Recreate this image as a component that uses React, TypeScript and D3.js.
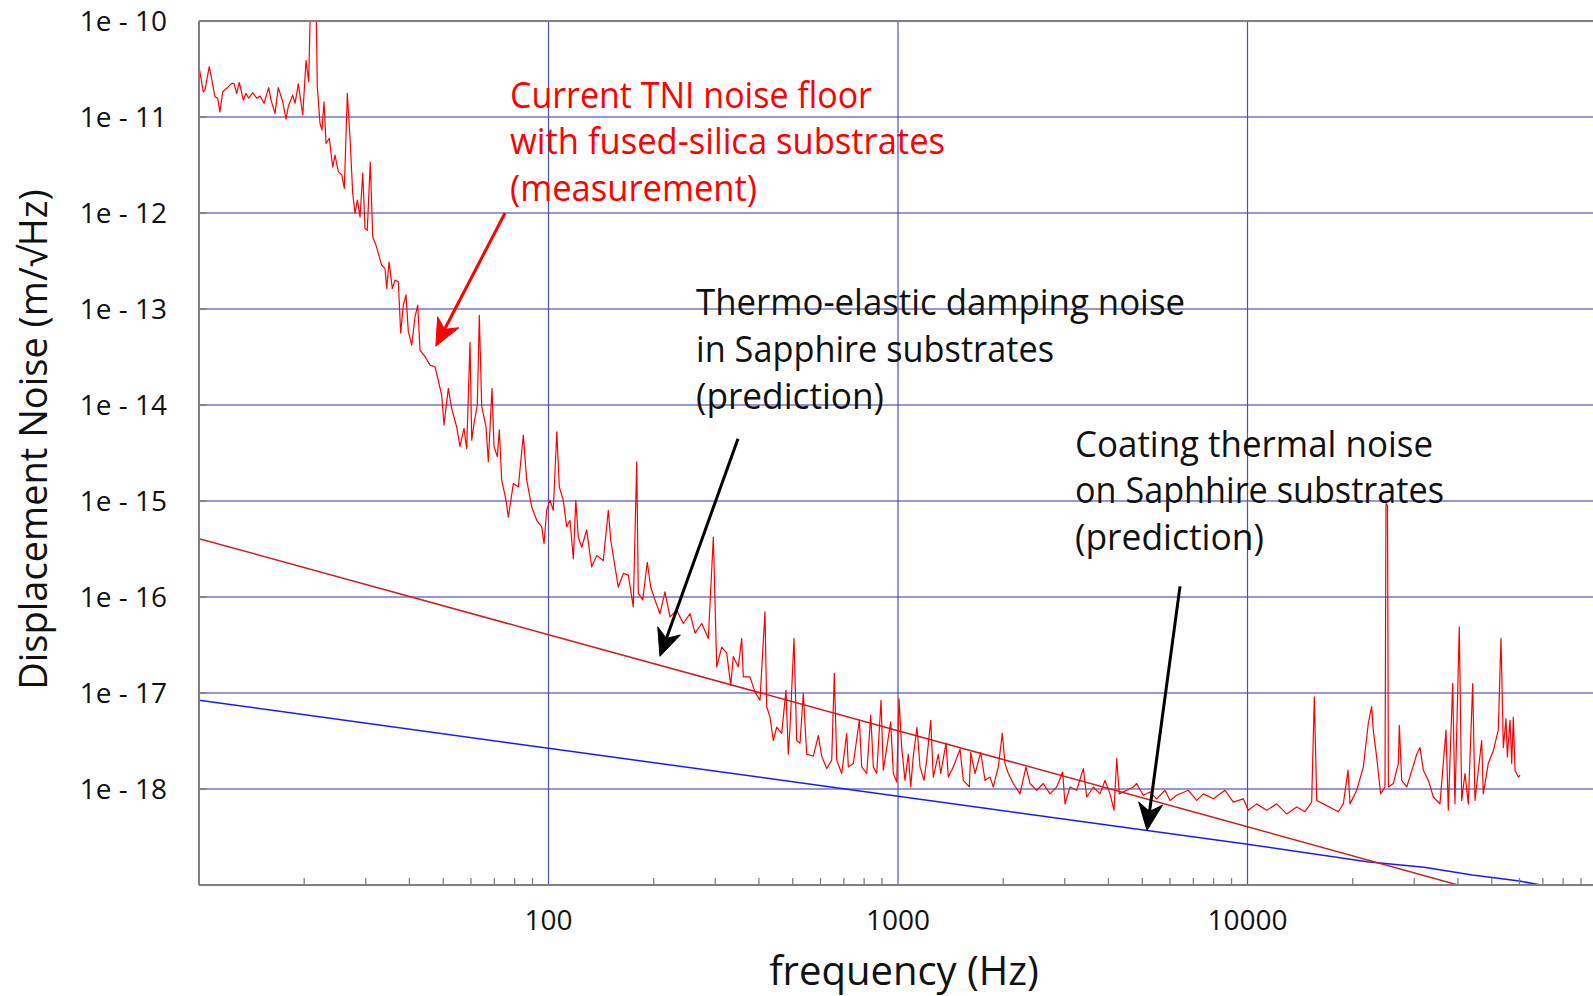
import React from "react";
import * as d3 from "d3";

// ---------- DATA ----------
const measFreq = [
  10.0, 10.29, 10.4, 10.7, 11.11, 11.31, 11.48, 11.69, 12.0, 12.4, 12.59, 12.82, 13.04, 13.39, 13.63, 13.87, 14.24, 14.63, 14.95, 15.35,
  15.83, 16.07, 16.5, 16.86, 17.36, 17.74, 18.02, 18.54, 18.83, 19.24, 19.81, 20.24, 20.6, 20.87, 21.61, 21.8, 22.19, 22.48, 22.79, 23.09,
  23.6, 24.13, 24.5, 25.04, 25.61, 26.05, 26.57, 27.04, 27.53, 27.95, 28.38, 28.89, 29.41, 29.85, 30.3, 30.91, 31.41, 32.1, 33.32, 34.05,
  34.44, 34.97, 35.74, 36.38, 37.18, 37.77, 38.42, 39.11, 39.71, 40.61, 41.5, 42.25, 42.89, 44.33, 45.81, 47.34, 48.38, 49.47, 50.23, 51.68,
  52.84, 54.62, 55.82, 57.31, 58.34, 59.62, 60.3, 61.21, 62.56, 63.39, 64.41, 66.26, 67.27, 68.92, 69.84, 71.37, 72.32, 73.47, 75.58, 76.74,
  79.32, 81.97, 84.71, 86.62, 89.53, 92.52, 95.6, 97.1, 98.8, 101.0, 103.2, 105.6, 107.4, 110.2, 112.7, 115.2, 117.8, 119.7, 121.7, 124.5,
  128.6, 132.9, 137.4, 143.5, 148.3, 150.7, 155.0, 158.4, 163.7, 169.2, 174.8, 178.8, 180.7, 186.0, 191.7, 196.1, 201.7, 208.4, 215.4, 222.6,
  232.7, 243.0, 254.1, 262.6, 274.4, 286.6, 296.2, 302.9, 313.0, 323.6, 332.1, 337.9, 349.2, 357.1, 360.9, 377.1, 389.7, 402.8, 416.3, 421.0,
  430.3, 439.7, 449.6, 464.7, 478.1, 485.4, 491.0, 504.0, 513.1, 524.4, 535.8, 548.1, 572.5, 591.6, 605.0, 625.2, 646.2, 657.3, 667.8, 690.2,
  713.3, 720.9, 745.0, 775.1, 787.4, 813.9, 835.7, 850.1, 869.2, 894.2, 907.8, 953.0, 969.6, 991.6, 1006.6, 1024.7, 1047.2, 1070.2, 1087.3, 1106.1,
  1133.4, 1156.0, 1186.9, 1208.2, 1240.6, 1261.9, 1304.2, 1325.1, 1372.1, 1393.1, 1439.7, 1504.8, 1537.7, 1599.8, 1614.7, 1661.1, 1724.7, 1774.2, 1833.6, 1874.0,
  1936.5, 1988.1, 2024.1, 2068.4, 2137.6, 2233.7, 2324.0, 2386.0, 2494.0, 2604.0, 2722.0, 2845.0, 2959.0, 3005.0, 3106.0, 3246.0, 3390.0, 3467.0, 3621.0, 3784.0,
  3911.0, 4042.0, 4150.0, 4225.0, 4297.0, 4512.0, 4713.0, 4818.0, 5032.0, 5260.0, 5498.0, 5808.0, 6003.0, 6273.0, 6771.0, 7156.0, 7474.0, 7984.0, 8623.0, 9108.0,
  9728.0, 10050, 10620, 11350, 12120, 12950, 13830, 14600, 15260, 15530, 15780, 16480, 17600, 18190, 18800, 19390, 19650, 20530, 21450, 22160,
  22660, 22900, 23420, 24040, 24740, 24900, 25150, 25300, 26130, 27010, 27190, 27620, 28550, 30150, 30490, 31160, 31850, 32920, 34020, 35540,
  36980, 37540, 38640, 39230, 40360, 41010, 41900, 42830, 44090, 44760, 46770, 47270, 48850, 50490, 52190, 52780, 53130, 53940, 54910, 55390,
  56380, 57010, 57620, 58270, 59540, 60220,
];
const measNoise = [
  3.34e-11, 1.83e-11, 1.91e-11, 3.34e-11, 1.63e-11, 1.57e-11, 1.13e-11, 1.83e-11, 1.99e-11, 2.24e-11, 2.24e-11, 1.76e-11, 2.3e-11, 1.5e-11, 1.76e-11, 1.57e-11, 1.79e-11, 1.57e-11, 1.65e-11, 1.39e-11,
  2.02e-11, 1.5e-11, 1.09e-11, 2.02e-11, 1.44e-11, 9.5e-12, 1.3e-11, 1.69e-11, 1.39e-11, 2.21e-11, 1.05e-11, 3.86e-11, 2.33e-11, 2.0e-10, 2.0e-10, 2.07e-11, 8.6e-12, 7.3e-12, 1.44e-11, 5.3e-12,
  6.0e-12, 3.0e-12, 4.0e-12, 2.7e-12, 2.5e-12, 1.8e-12, 1.76e-11, 6.2e-12, 1.6e-12, 9.9e-13, 1.36e-12, 9.1e-13, 2.6e-12, 6.9e-13, 6.6e-13, 3.4e-12, 5.65e-13, 4.6e-13, 2.87e-13, 2.65e-13,
  1.64e-13, 3.1e-13, 1.64e-13, 2.0e-13, 1.92e-13, 5.6e-14, 1.1e-13, 1.4e-13, 5.8e-14, 4.2e-14, 8.3e-14, 1.1e-13, 3.7e-14, 3.2e-14, 2.6e-14, 2.5e-14, 1.8e-14, 1.27e-14, 6.2e-15, 1.49e-14,
  9.2e-15, 5.9e-15, 3.7e-15, 5.7e-15, 3.5e-15, 4.5e-14, 4.3e-15, 6.4e-15, 1.0e-14, 8.6e-14, 9.6e-15, 5.9e-15, 2.56e-15, 1.49e-14, 3.7e-15, 2.9e-15, 5.5e-15, 1.65e-15, 1.02e-15, 6.8e-16,
  1.52e-15, 1.4e-15, 4.85e-15, 1.65e-15, 8.7e-16, 6.3e-16, 5.4e-16, 3.6e-16, 8.0e-16, 1.02e-15, 8.0e-16, 5.25e-15, 1.4e-15, 1.02e-15, 5.4e-16, 6.3e-16, 2.5e-16, 1.02e-15, 4.2e-16, 3.3e-16,
  5.0e-16, 2.06e-16, 2.7e-16, 2.4e-16, 8.0e-16, 3.9e-16, 2.06e-16, 1.27e-16, 1.76e-16, 1.69e-16, 7.9e-17, 2.56e-15, 1.09e-16, 9.3e-17, 2.3e-16, 1.27e-16, 9.3e-17, 6.7e-17, 1.13e-16, 6.2e-17,
  7.3e-17, 5.3e-17, 6.7e-17, 4.2e-17, 5.3e-17, 3.7e-17, 4.2e-16, 1.87e-17, 3.0e-17, 2.6e-17, 1.2e-17, 2.4e-17, 1.87e-17, 3.7e-17, 1.47e-17, 1.47e-17, 1.02e-17, 8.4e-18, 7.0e-17, 7.2e-18,
  5.6e-18, 3.2e-18, 4.4e-18, 3.8e-18, 1.07e-17, 2.3e-18, 4.4e-18, 3.7e-17, 3.2e-18, 3.0e-18, 9.9e-18, 2.3e-18, 2.2e-18, 3.6e-18, 2.2e-18, 1.63e-18, 2.0e-18, 1.6e-17, 2.0e-18, 1.45e-18,
  3.8e-18, 1.7e-18, 1.84e-18, 5.2e-18, 1.7e-18, 1.45e-18, 5.9e-18, 1.7e-18, 1.45e-18, 8.4e-18, 1.57e-18, 5.0e-18, 1.45e-18, 1.18e-18, 8.7e-18, 2.7e-18, 1.23e-18, 2.3e-18, 1.05e-18, 2.2e-18,
  4.4e-18, 1.7e-18, 1.23e-18, 2.0e-18, 5.2e-18, 1.33e-18, 2.3e-18, 1.45e-18, 3.0e-18, 1.33e-18, 1.7e-18, 2.6e-18, 1.23e-18, 1.05e-18, 2.4e-18, 1.45e-18, 2.4e-18, 1.23e-18, 1.33e-18, 1.05e-18,
  1.7e-18, 3.8e-18, 1.84e-18, 1.45e-18, 1.14e-18, 8.9e-19, 1.7e-18, 1.14e-18, 9.7e-19, 1.14e-18, 8.9e-19, 1.05e-18, 1.5e-18, 7.0e-19, 1.05e-18, 9.7e-19, 1.63e-18, 8.25e-19, 1.05e-18, 8.9e-19,
  1.23e-18, 8.9e-19, 6.0e-19, 2.07e-18, 8.9e-19, 9.7e-19, 1.05e-18, 1.14e-18, 8.6e-19, 9.3e-19, 7.9e-19, 9.7e-19, 7.6e-19, 8.6e-19, 9.7e-19, 7.6e-19, 8.9e-19, 7.9e-19, 9.7e-19, 7.3e-19,
  7.9e-19, 6.0e-19, 7.0e-19, 6.0e-19, 7.0e-19, 5.5e-19, 6.5e-19, 5.8e-19, 7.3e-19, 9.1e-18, 7.6e-19, 7.0e-19, 6.2e-19, 5.8e-19, 7.0e-19, 1.57e-18, 7.0e-19, 9.7e-19, 1.7e-18, 4.8e-18,
  7.2e-18, 4.1e-18, 2.15e-18, 8.9e-19, 1.05e-18, 9.4e-16, 9.0e-16, 1.05e-18, 1.14e-18, 1.84e-18, 4.6e-18, 1.23e-18, 1.05e-18, 2.0e-18, 2.3e-18, 2.7e-18, 1.57e-18, 1.23e-18, 8.25e-19, 7.0e-19,
  4.1e-18, 6.0e-19, 1.25e-17, 7.0e-19, 4.9e-17, 7.6e-19, 1.45e-18, 7.0e-19, 1.25e-17, 7.6e-19, 3.2e-18, 8.9e-19, 1.84e-18, 2.5e-18, 4.1e-18, 1.7e-17, 3.7e-17, 2.7e-18, 5.4e-18, 2.15e-18,
  5.2e-18, 1.84e-18, 5.6e-18, 1.57e-18, 1.33e-18, 1.39e-18,
];

// Thermo-elastic damping noise prediction (sapphire)
const tedFreq = [10, 100, 1000, 10000, 40000];
const tedNoise = [4.05e-16, 4.05e-17, 4.05e-18, 4.05e-19, 1.0e-19];

// Coating thermal noise prediction (sapphire)
const ctnFreq = [10, 100, 1000, 10000, 22000, 32000, 44000, 60000, 69000];
const ctnNoise = [8.4e-18, 2.66e-18, 8.4e-19, 2.66e-19, 1.75e-19, 1.53e-19, 1.27e-19, 1.1e-19, 1.0e-19];

const yTickValues = [1e-10, 1e-11, 1e-12, 1e-13, 1e-14, 1e-15, 1e-16, 1e-17, 1e-18];
const yTickLabels = ["1e - 10", "1e - 11", "1e - 12", "1e - 13", "1e - 14", "1e - 15", "1e - 16", "1e - 17", "1e - 18"];
const xTickValues = [100, 1000, 10000];
const xTickLabels = ["100", "1000", "10000"];

// annotation arrows: [start freq, start noise, tip freq, tip noise]
const arrowMeas = [75.1, 1.0e-12, 47.6, 4.1e-14];
const arrowTed = [348.5, 4.46e-15, 208.4, 2.41e-17];
const arrowCtn = [6411, 1.29e-16, 5157, 3.71e-19];

const annotMeas = ["Current TNI noise floor", "with fused-silica substrates", "(measurement)"];
const annotTed = ["Thermo-elastic damping noise", "in Sapphire substrates", "(prediction)"];
const annotCtn = ["Coating thermal noise", "on Saphhire substrates", "(prediction)"];

// ---------- LAYOUT ----------
const W = 1593;
const H = 996;
const L = 199;
const T = 21;
const B = 885;
const DEC = 349.5;
const FONT = "'Open Sans', 'Noto Sans', sans-serif";

export default function App() {
  const x = d3.scaleLog().domain([10, 1e5]).range([L, L + 4 * DEC]);
  const y = d3.scaleLog().domain([1e-19, 1e-10]).range([B, T]);

  const mk = (fs: number[], ns: number[]) =>
    d3
      .line<[number, number]>()
      .x((d) => x(d[0]))
      .y((d) => y(d[1]))(fs.map((f, i) => [f, ns[i]] as [number, number])) || "";

  const measPath = mk(measFreq, measNoise);
  const tedPath = mk(tedFreq, tedNoise);
  const ctnPath = mk(ctnFreq, ctnNoise);

  // minor ticks
  const minor: number[] = [];
  for (let dec = 10; dec < 1e5; dec *= 10) {
    for (let m = 2; m <= 9; m++) {
      const v = dec * m;
      if (x(v) < W) minor.push(v);
    }
  }

  const arrow = (a: number[], color: string) => {
    const x1 = x(a[0]);
    const y1 = y(a[1]);
    const x2 = x(a[2]);
    const y2 = y(a[3]);
    const dx = x2 - x1;
    const dy = y2 - y1;
    const len = Math.hypot(dx, dy);
    const ux = dx / len;
    const uy = dy / len;
    const px = -uy;
    const py = ux;
    const hl = 27;
    const hw = 12;
    const notch = 8;
    const bx = x2 - ux * hl;
    const by = y2 - uy * hl;
    const nx = x2 - ux * (hl - notch);
    const ny = y2 - uy * (hl - notch);
    const head = `M${x2},${y2}L${bx + px * hw},${by + py * hw}L${nx},${ny}L${bx - px * hw},${by - py * hw}Z`;
    return (
      <g>
        <line x1={x1} y1={y1} x2={nx} y2={ny} stroke={color} strokeWidth={3} />
        <path d={head} fill={color} stroke={color} strokeWidth={1} strokeLinejoin="miter" />
      </g>
    );
  };

  const annotLen = {
    meas: [362, 435, 247],
    ted: [489, 358, 188],
    ctn: [358, 369, 189],
  };

  const block = (lines: string[], lx: number, ly: number, color: string, lens: number[]) => (
    <g fill={color} fontFamily={FONT} fontSize={36}>
      {lines.map((s, i) => (
        <text key={i} x={lx} y={ly + i * 46.8} textLength={lens[i]} lengthAdjust="spacingAndGlyphs">
          {s}
        </text>
      ))}
    </g>
  );

  return (
    <div style={{ position: "absolute", left: 0, top: 0, width: W, height: H, background: "#fff" }}>
      <svg width={W} height={H} style={{ display: "block" }}>
        <defs>
          <clipPath id="plotClip">
            <rect x={L} y={T} width={W - L} height={B - T} />
          </clipPath>
        </defs>
        <rect x={0} y={0} width={W} height={H} fill="#ffffff" />

        {/* grid */}
        <g>
          {yTickValues.slice(1).map((v) => (
            <line key={v} x1={L} x2={W} y1={y(v)} y2={y(v)} stroke="#7474c4" strokeWidth={1.5} />
          ))}
          {xTickValues.map((v) => (
            <line key={v} x1={x(v)} x2={x(v)} y1={T} y2={B} stroke="#5050c4" strokeWidth={1.2} />
          ))}
        </g>

        {/* curves */}
        <g clipPath="url(#plotClip)" fill="none">
          <path d={ctnPath} stroke="#1a1aff" strokeWidth={1.5} />
          <path d={tedPath} stroke="#cc2020" strokeWidth={1.5} />
          <path d={measPath} stroke="#ff0000" strokeWidth={1.2} strokeLinejoin="round" />
        </g>

        {/* axes */}
        <g stroke="#808080">
          <line x1={L} x2={W} y1={T} y2={T} strokeWidth={2} />
          <line x1={L} x2={L} y1={T} y2={B} strokeWidth={2} />
          <line x1={L} x2={W} y1={B} y2={B} strokeWidth={2.2} />
          {minor.map((v) => (
            <line key={v} x1={x(v)} x2={x(v)} y1={B} y2={B - 7} strokeWidth={1.3} />
          ))}
          {yTickValues.slice(1).map((v) => (
            <line key={v} x1={L} x2={L + 8} y1={y(v)} y2={y(v)} strokeWidth={1.5} />
          ))}
        </g>

        {/* tick labels */}
        <g fontFamily={FONT} fontSize={28} fill="#111">
          {yTickValues.map((v, i) => (
            <text key={v} x={167} y={y(v) + 10} textAnchor="end">
              {yTickLabels[i]}
            </text>
          ))}
          {xTickValues.map((v, i) => (
            <text key={v} x={x(v)} y={930} textAnchor="middle">
              {xTickLabels[i]}
            </text>
          ))}
        </g>

        {/* axis titles */}
        <text x={904} y={985} textAnchor="middle" fontFamily={FONT} fontSize={40} fill="#111">
          frequency (Hz)
        </text>
        <text
          transform={`translate(47,439.5) rotate(-90)`}
          textAnchor="middle"
          fontFamily={FONT}
          fontSize={38}
          fill="#111"
        >
          Displacement Noise (m/√Hz)
        </text>

        {/* arrows */}
        {arrow(arrowMeas, "#ff0000")}
        {arrow(arrowTed, "#000000")}
        {arrow(arrowCtn, "#000000")}

        {/* annotations */}
        {block(annotMeas, 510, 107.5, "#ff0000", annotLen.meas)}
        {block(annotTed, 696, 315, "#111111", annotLen.ted)}
        {block(annotCtn, 1075, 456.5, "#111111", annotLen.ctn)}
      </svg>
    </div>
  );
}
